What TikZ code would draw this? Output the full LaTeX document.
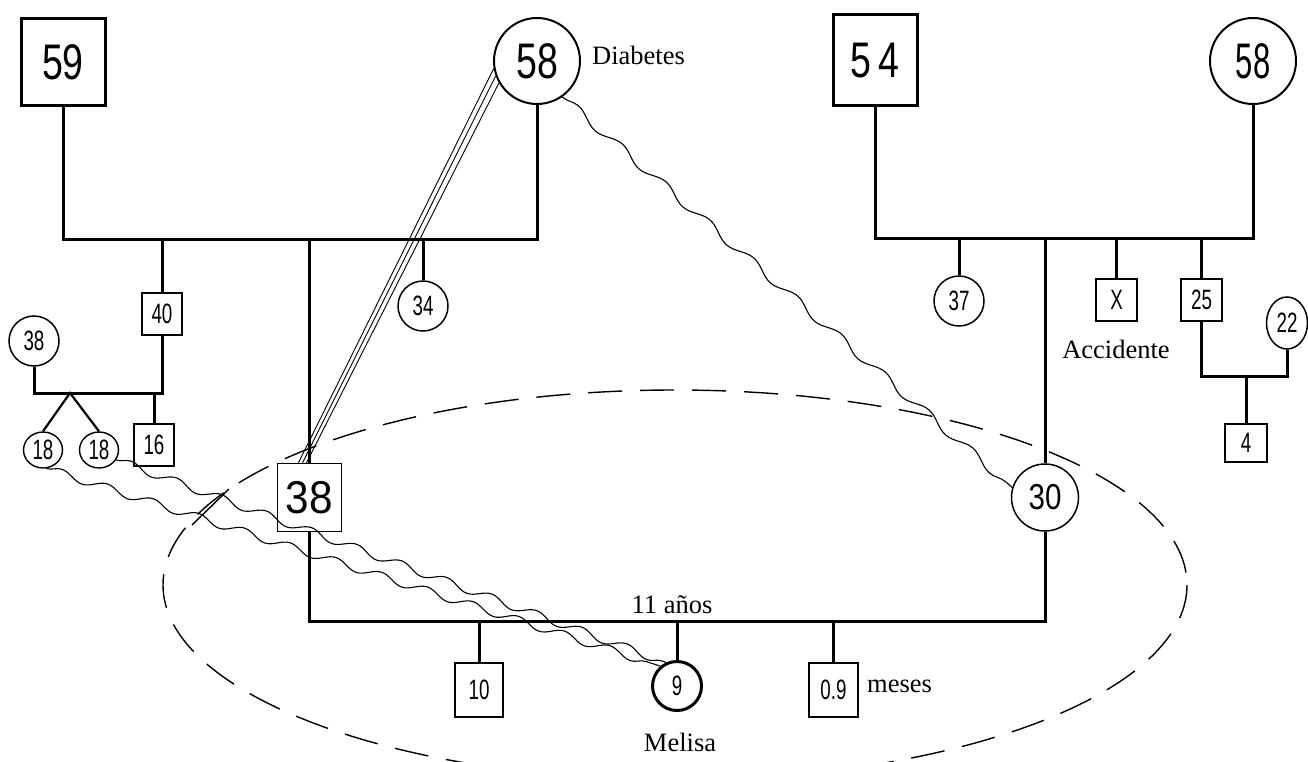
\documentclass[tikz,border=0pt]{standalone}
\usepackage{fontspec}
\setmainfont{Liberation Serif}
\newfontfamily\numA[FakeStretch=0.75]{Liberation Sans}
\newfontfamily\numB[FakeStretch=0.92]{Liberation Sans}
\newfontfamily\numC[FakeStretch=0.67]{Liberation Sans}
\newfontfamily\numD[FakeStretch=0.82]{Liberation Sans}
\newfontfamily\numE[FakeStretch=0.62]{Liberation Sans}
\usetikzlibrary{shapes.geometric,decorations.pathmorphing}
\begin{document}
\begin{tikzpicture}[x=1pt,y=-1pt,
  pline/.style={line width=3pt},
  bigbox/.style={draw, rectangle, line width=3pt, inner sep=0pt, font={\numA\fontsize{50}{50}\selectfont}},
  smallbox/.style={draw, rectangle, line width=1.4pt, inner sep=0pt, minimum width=41pt, minimum height=42pt, font={\numC\fontsize{28}{28}\selectfont}},
  smallcirc/.style={draw, circle, line width=1.5pt, inner sep=0pt, minimum size=50pt, font={\numC\fontsize{28}{28}\selectfont}},
  bigcirc/.style={draw, circle, line width=2pt, inner sep=0pt, minimum size=86pt, font={\numA\fontsize{50}{50}\selectfont}},
  lbl/.style={inner sep=0pt, font={\fontsize{26.5}{30}\selectfont}},
  wave/.style={decorate, decoration={snake, segment length=58pt, amplitude=4pt}, line width=1.1pt},
  wavetw/.style={decorate, decoration={snake, segment length=48pt, amplitude=4pt}, line width=1.1pt},
  triple/.style={line width=0.9pt},
  dashell/.style={dash pattern=on 34pt off 18pt, line width=1.4pt}]
\useasboundingbox (0,0) rectangle (1308,762);

% --- coordinates of the couple lines
\coordinate (yL) at (0,239);
\coordinate (yR) at (0,238);
\coordinate (yS) at (0,393);
\coordinate (yT) at (0,376);
\coordinate (yB) at (0,621);

% --- top left couple
\node[bigbox, minimum width=84pt, minimum height=87pt] (b59) at (63,62.5) {59};
\node[bigcirc] (c58a) at (537,61) {58};
\node[lbl, anchor=west] (diab) at (592,55) {Diabetes};

% --- children of left couple
\node[smallbox, minimum width=40pt] (b40) at (162,314) {40};
\node[smallbox, line width=1.5pt, minimum width=64pt, minimum height=68pt, font={\numB\fontsize{46}{46}\selectfont}] (b38) at (309.5,497.5) {38};
\node[smallcirc] (c34) at (423,306) {34};

% --- family of 40
\node[smallcirc, minimum size=50pt] (c38s) at (34,341) {38};
\node[smallbox, minimum width=40pt] (b16) at (154,445) {16};
\node[draw, ellipse, line width=1.4pt, inner sep=0pt, minimum width=39pt, minimum height=36pt, font={\numC\fontsize{28}{28}\selectfont}] (c18a) at (43,450) {18};
\node[draw, ellipse, line width=1.4pt, inner sep=0pt, minimum width=39pt, minimum height=36pt, font={\numC\fontsize{28}{28}\selectfont}] (c18b) at (99,450) {18};
\coordinate (tw) at (70,393);

% --- top right couple
\node[bigbox, minimum width=84pt, minimum height=91pt] (b54) at (875,60.5) {5\kern7pt4};
\node[bigcirc, font={\numE\fontsize{50}{50}\selectfont}] (c58b) at (1253,61) {58};

% --- children of right couple
\node[smallcirc] (c37) at (959,301) {37};
\node[bigcirc, line width=1.5pt, minimum size=67pt, font={\numD\fontsize{36}{36}\selectfont}] (c30) at (1045,497.5) {30};
\node[smallbox] (bX) at (1116.5,300) {X};
\node[lbl] (acc) at (1116,349) {Accidente};
\node[smallbox] (b25) at (1201.5,300) {25};
\node[draw, ellipse, line width=1.5pt, inner sep=0pt, minimum width=41pt, minimum height=52pt, font={\numC\fontsize{28}{28}\selectfont}] (c22) at (1287,323) {22};
\node[smallbox, minimum width=42pt, minimum height=38pt] (b4) at (1246,443) {4};

% --- bottom: children of 38 and 30
\node[smallbox, minimum width=48pt, minimum height=54pt] (b10) at (479,690) {10};
\node[draw, circle, line width=3pt, inner sep=0pt, minimum size=49pt, font={\numC\fontsize{28}{28}\selectfont}] (c9) at (677,686) {9};
\node[smallbox, minimum width=49pt, minimum height=54pt] (b09) at (833.5,690) {0.9};
\node[lbl] (anios) at (672,605) {11 años};
\node[lbl] (melisa) at (680,742) {Melisa};
\node[lbl, anchor=west] (meses) at (867,686) {meses};

% --- pedigree lines
\draw[pline] (b59.south) -- (b59.south |- yL) -- (c58a.south |- yL) -- (c58a.south);
\draw[pline] (b40.north |- yL) -- (b40.north);
\draw[pline] (b38.north |- yL) -- (b38.north);
\draw[pline] (c34.north |- yL) -- (c34.north);

\draw[pline] (b40.south) -- (b40.south |- yS) -- (c38s.south |- yS) -- (c38s.south);
\draw[pline] (b16.north |- yS) -- (b16.north);
\draw[line width=2.2pt] (c18a.north) -- (tw) -- (c18b.north);

\draw[pline] (b54.south) -- (b54.south |- yR) -- (c58b.south |- yR) -- (c58b.south);
\draw[pline] (c37.north |- yR) -- (c37.north);
\draw[pline] (c30.north |- yR) -- (c30.north);
\draw[pline] (bX.north |- yR) -- (bX.north);
\draw[pline] (b25.north |- yR) -- (b25.north);

\draw[pline] (b25.south) -- (b25.south |- yT) -- (c22.south |- yT) -- (c22.south);
\draw[pline] (b4.north |- yT) -- (b4.north);

\draw[pline] (b38.south) -- (b38.south |- yB) -- (c30.south |- yB) -- (c30.south);
\draw[pline] (b10.north |- yB) -- (b10.north);
\draw[pline] (c9.north |- yB) -- (c9.north);
\draw[pline] (b09.north |- yB) -- (b09.north);

% --- relationship lines
\draw[triple] (c58a.190) -- ([xshift=-11pt]b38.north);
\draw[triple] (c58a.200) -- ([xshift=-7pt]b38.north);
\draw[triple] (c58a.210) -- ([xshift=-3pt]b38.north);

\draw[wave] (c58a.-55) -- (c30.163);
\draw[wavetw] (c18a.-80) -- (c9.130);
\draw[wavetw] (c18b.-30) -- (c9.115);

% --- household boundary
\draw[dashell] (675,585) ellipse [x radius=512, y radius=195];
\draw[line width=1.4pt] (192,525) -- (229,489);
\end{tikzpicture}
\end{document}
